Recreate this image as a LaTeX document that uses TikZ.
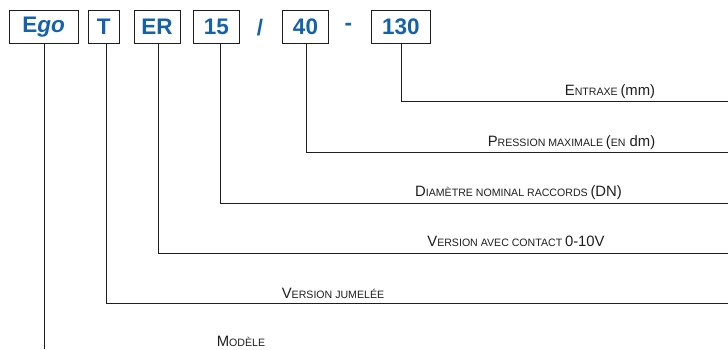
\documentclass[tikz,border=0pt]{standalone}
\usepackage{fontspec}
\setmainfont{Liberation Sans}
\newfontfamily\condfont[FakeStretch=0.99]{Liberation Sans}
\definecolor{egoblue}{RGB}{20,98,172}
\definecolor{ink}{RGB}{30,30,30}
\newcommand\bigc{\fontsize{15}{17}\selectfont}
\newcommand\smc{\fontsize{10.7}{12}\selectfont}
\begin{document}
\begin{tikzpicture}[x=1pt,y=-1pt,
  codebox/.style={draw=ink,line width=0.9pt,fill=white,text=egoblue,
    font=\bfseries\fontsize{22.5}{24}\selectfont,minimum height=32.5pt,inner sep=0pt,anchor=center},
  sep/.style={text=egoblue,font=\bfseries\fontsize{22.5}{24}\selectfont,inner sep=0pt,anchor=center},
  conn/.style={draw=ink,line width=0.9pt},
  lbl/.style={text=ink,inner sep=0pt,anchor=base,font=\condfont}]
\useasboundingbox (0,0) rectangle (728,349);
% code boxes
\node[codebox,minimum width=69.3pt] (bego) at (43.6,27) {E\textit{go}};
\node[codebox,minimum width=31pt] (bt) at (103.8,27) {T};
\node[codebox,minimum width=46pt] (ber) at (157,27) {ER};
\node[codebox,minimum width=46pt] (b15) at (216.3,27) {15};
\node[sep] (slash) at (260,28) {/};
\node[codebox,minimum width=45.6pt] (b40) at (305.5,27) {40};
\node[sep] (dash) at (348.3,27) {-};
\node[codebox,minimum width=58.3pt] (b130) at (400.8,27) {130};
% line ends
\coordinate (r130) at (728,101.7);
\coordinate (r40) at (728,152.7);
\coordinate (r15) at (728,203);
\coordinate (rer) at (728,253);
\coordinate (rt) at (728,303);
\coordinate (rego) at (44,349);
% connectors
\draw[conn] ([xshift=1pt]b130.south) |- (r130);
\draw[conn] ([xshift=1.2pt]b40.south) |- (r40);
\draw[conn] ([xshift=3.7pt]b15.south) |- (r15);
\draw[conn] ([xshift=1pt]ber.south) |- (rer);
\draw[conn] ([xshift=2.9pt]bt.south) |- (rt);
\draw[conn] ([xshift=0.4pt]bego.south) -- (rego);
% labels
\node[lbl] (l130) at (610,95.5) {{\bigc E}{\smc NTRAXE} {\bigc (mm)}};
\node[lbl] (l40) at (571.5,146.5) {{\bigc P}{\smc RESSION MAXIMALE} {\bigc (}{\smc EN}{\bigc{} dm)}};
\node[lbl] (l15) at (518.5,196) {{\bigc D}{\smc IAMÈTRE NOMINAL RACCORDS} {\bigc (DN)}};
\node[lbl] (ler) at (516,246) {{\bigc V}{\smc ERSION AVEC CONTACT} {\bigc 0-10V}};
\node[lbl] (lt) at (333,298) {{\bigc V}{\smc ERSION JUMELÉE}};
\node[lbl] (lego) at (241,346.5) {{\bigc M}{\smc ODÈLE}};
\end{tikzpicture}
\end{document}
